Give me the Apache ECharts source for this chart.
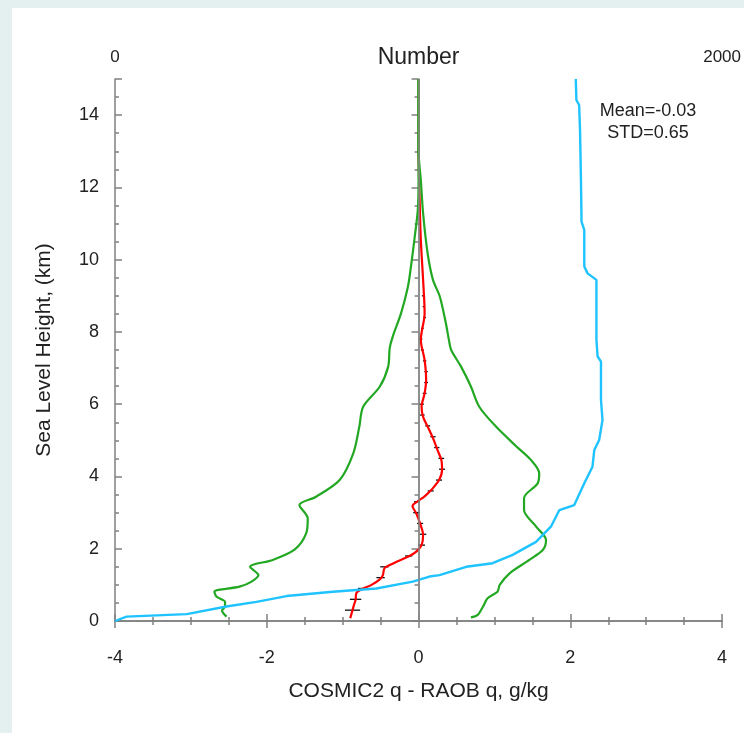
<!DOCTYPE html>
<html>
<head>
<meta charset="utf-8">
<script src="https://cdn.jsdelivr.net/npm/echarts@6/dist/echarts.min.js"></script>
<style>
  html, body { margin: 0; padding: 0; background: #e4f0f0; }
  #panel { position: absolute; left: 12px; top: 8px; right: 0; bottom: 0; background: #fff; }
  #chart { position: absolute; left: 0; top: 0; width: 744px; height: 733px; }
</style>
</head>
<body>
<div id="panel"></div>
<div id="chart"></div>
<script>
// mean difference (g/kg) vs height (km)
var meanHeight = [0.08, 0.3, 0.45, 0.58, 0.77, 0.88, 1.0, 1.15, 1.27, 1.46, 1.55, 1.64, 1.8, 1.92, 2.1, 2.38, 2.7, 2.98, 3.18, 3.3, 3.45, 3.63, 3.9, 4.18, 4.46, 4.73, 5.06, 5.38, 5.65, 5.93, 6.3, 6.67, 7.22, 7.78, 8.52, 9.44, 10.55, 12.0, 13.0, 15.0]
var meanDiff = [-0.9, -0.87, -0.85, -0.83, -0.82, -0.75, -0.62, -0.51, -0.47, -0.45, -0.38, -0.29, -0.12, -0.03, 0.04, 0.06, 0.02, -0.03, -0.08, -0.02, 0.08, 0.17, 0.27, 0.31, 0.3, 0.25, 0.19, 0.12, 0.06, 0.04, 0.08, 0.1, 0.08, 0.03, 0.08, 0.06, 0.03, 0.01, 0.0, 0.0]

// error bars on the mean
var errHeight = [0.3, 0.6, 0.9, 1.2, 1.5, 1.8, 2.1, 2.4, 2.7, 3.0, 3.3, 3.6, 3.9, 4.2, 4.5, 4.8, 5.1, 5.4, 5.7, 6.0, 6.3, 6.6, 6.9, 7.2, 7.5, 7.8, 8.1, 8.4, 8.7, 9.0]
var errCenter = [-0.87, -0.83, -0.74, -0.5, -0.45, -0.13, 0.04, 0.06, 0.02, -0.03, -0.02, 0.16, 0.27, 0.31, 0.3, 0.24, 0.19, 0.12, 0.05, 0.04, 0.08, 0.1, 0.1, 0.08, 0.05, 0.03, 0.05, 0.08, 0.07, 0.06]
var errHalf = [0.1, 0.075, 0.06, 0.055, 0.055, 0.048, 0.045, 0.042, 0.04, 0.04, 0.04, 0.04, 0.04, 0.04, 0.038, 0.035, 0.035, 0.032, 0.03, 0.03, 0.025, 0.025, 0.022, 0.022, 0.02, 0.02, 0.018, 0.018, 0.016, 0.016]

// mean - std
var lowHeight = [0.12, 0.29, 0.4, 0.53, 0.67, 0.81, 0.95, 1.09, 1.27, 1.5, 1.69, 1.98, 2.43, 2.84, 3.21, 3.44, 3.9, 4.64, 5.38, 5.93, 6.49, 7.04, 7.55, 7.87, 8.52, 9.25, 9.81, 10.64, 11.37, 12.2, 15.0]
var lowDiff = [-2.53, -2.59, -2.55, -2.55, -2.66, -2.69, -2.36, -2.2, -2.11, -2.22, -1.92, -1.63, -1.48, -1.46, -1.57, -1.35, -1.04, -0.86, -0.78, -0.73, -0.51, -0.4, -0.38, -0.34, -0.23, -0.14, -0.1, -0.05, -0.01, 0.0, 0.0]

// mean + std
var highHeight = [0.1, 0.17, 0.4, 0.63, 0.81, 1.0, 1.32, 1.69, 1.97, 2.24, 2.61, 3.07, 3.4, 3.81, 4.09, 4.46, 4.83, 5.38, 5.93, 6.49, 7.04, 7.5, 7.78, 8.24, 8.98, 9.44, 10.17, 11.28, 12.2, 13.0, 15.0]
var highDiff = [0.69, 0.78, 0.85, 0.91, 1.04, 1.07, 1.2, 1.46, 1.64, 1.68, 1.55, 1.39, 1.39, 1.57, 1.59, 1.48, 1.29, 1.02, 0.8, 0.69, 0.56, 0.43, 0.4, 0.36, 0.28, 0.19, 0.12, 0.06, 0.03, 0.0, 0.0]

// number of samples (top axis)
var countHeight = [0.0, 0.12, 0.19, 0.4, 0.53, 0.69, 0.81, 0.9, 1.09, 1.23, 1.27, 1.5, 1.6, 1.83, 2.19, 2.61, 3.07, 3.21, 3.81, 4.27, 4.73, 5.01, 5.56, 6.12, 7.18, 7.32, 7.78, 9.44, 9.62, 9.81, 10.82, 11.05, 12.21, 13.59, 14.28, 14.42, 15.0]
var countNum = [0, 38, 236, 367, 466, 565, 718, 861, 981, 1036, 1069, 1157, 1244, 1310, 1387, 1436, 1464, 1513, 1546, 1573, 1579, 1595, 1606, 1601, 1601, 1590, 1586, 1586, 1557, 1546, 1546, 1537, 1535, 1532, 1529, 1520, 1518]

var xTicks = [-4, -2, 0, 2, 4]
var topTicks = [0, 2000]
var yTicks = [0, 2, 4, 6, 8, 10, 12, 14]

function pairs (xs, ys) {
  return xs.map(function (x, i) { return [x, ys[i]] })
}

var font = 'Liberation Sans'
var axisGray = '#808080'
var tickStyle = { color: axisGray, width: 1.5 }

var chart = echarts.init(document.getElementById('chart'))
chart.setOption({
  animation: false,
  grid: { left: 115, right: 21, top: 79, bottom: 112 },
  textStyle: { fontFamily: font },
  xAxis: [{
    type: 'value',
    position: 'bottom',
    min: -4,
    max: 4,
    interval: 2,
    name: 'COSMIC2 q - RAOB q, g/kg',
    nameLocation: 'middle',
    nameGap: 60,
    nameMoveOverlap: false,
    nameTextStyle: { fontSize: 21, color: '#222', fontFamily: font },
    axisLine: { lineStyle: tickStyle },
    axisTick: { length: 7, lineStyle: tickStyle },
    minorTick: { show: true, splitNumber: 4, length: 4, lineStyle: tickStyle },
    splitLine: { show: false },
    axisLabel: {
      margin: 28,
      fontSize: 18,
      color: '#222',
      formatter: function (v) { return xTicks.indexOf(v) >= 0 ? String(v) : '' }
    }
  }, {
    type: 'value',
    position: 'top',
    min: 0,
    max: 2000,
    interval: 500,
    name: 'Number',
    nameLocation: 'middle',
    nameGap: 10,
    nameMoveOverlap: false,
    nameTextStyle: { fontSize: 23, color: '#222', fontFamily: font },
    axisLine: { lineStyle: tickStyle },
    axisTick: { length: 7, lineStyle: tickStyle },
    minorTick: { show: true, splitNumber: 4, length: 4, lineStyle: tickStyle },
    splitLine: { show: false },
    axisLabel: {
      margin: 13,
      fontSize: 17,
      color: '#222',
      formatter: function (v) { return topTicks.indexOf(v) >= 0 ? String(v) : '' }
    }
  }],
  yAxis: [{
    type: 'value',
    position: 'left',
    min: 0,
    max: 15,
    interval: 2,
    name: 'Sea Level Height, (km)',
    nameLocation: 'middle',
    nameGap: 60,
    nameMoveOverlap: false,
    nameTextStyle: { fontSize: 21, color: '#222', fontFamily: font },
    axisLine: { lineStyle: tickStyle },
    axisTick: { length: 7, lineStyle: tickStyle },
    minorTick: { show: true, splitNumber: 4, length: 4, lineStyle: tickStyle },
    splitLine: { show: false },
    axisLabel: {
      margin: 16,
      fontSize: 18,
      color: '#222',
      formatter: function (v) { return yTicks.indexOf(v) >= 0 ? String(v) : '' }
    }
  }, {
    type: 'value',
    position: 'right',
    min: 0,
    max: 15,
    interval: 2,
    axisLine: { show: true, lineStyle: tickStyle },
    axisTick: { show: true, length: 7, lineStyle: tickStyle },
    minorTick: { show: true, splitNumber: 4, length: 4, lineStyle: tickStyle },
    splitLine: { show: false },
    axisLabel: { show: false }
  }],
  graphic: [{
    type: 'text',
    x: 648,
    y: 100,
    style: { text: 'Mean=-0.03\nSTD=0.65', font: '18px ' + font, fill: '#222', align: 'center', verticalAlign: 'top', lineHeight: 22 }
  }],
  series: [{
    name: 'zero',
    type: 'line',
    data: [],
    markLine: {
      silent: true,
      symbol: 'none',
      label: { show: false },
      lineStyle: { color: '#8a8a8a', width: 1.5, type: 'solid' },
      data: [{ xAxis: 0 }]
    }
  }, {
    name: 'mean',
    type: 'line',
    data: pairs(meanDiff, meanHeight),
    smooth: 0.3,
    symbol: 'none',
    lineStyle: { color: '#ff0000', width: 2.2 }
  }, {
    name: 'err',
    type: 'custom',
    data: errHeight.map(function (h, i) { return [errCenter[i], h, errHalf[i]] }),
    renderItem: function (params, api) {
      var l = api.coord([api.value(0) - api.value(2), api.value(1)])
      var r = api.coord([api.value(0) + api.value(2), api.value(1)])
      return {
        type: 'line',
        shape: { x1: l[0], y1: l[1], x2: r[0], y2: r[1] },
        style: { stroke: '#111', lineWidth: 1.3 }
      }
    }
  }, {
    name: 'mean-std',
    type: 'line',
    data: pairs(lowDiff, lowHeight),
    smooth: 0.3,
    symbol: 'none',
    lineStyle: { color: '#22a822', width: 2.2 }
  }, {
    name: 'mean+std',
    type: 'line',
    data: pairs(highDiff, highHeight),
    smooth: 0.3,
    symbol: 'none',
    lineStyle: { color: '#22a822', width: 2.2 }
  }, {
    name: 'count',
    type: 'line',
    xAxisIndex: 1,
    data: pairs(countNum, countHeight),
    symbol: 'none',
    lineStyle: { color: '#1ec3ff', width: 2.4 }
  }]
})
</script>
</body>
</html>
